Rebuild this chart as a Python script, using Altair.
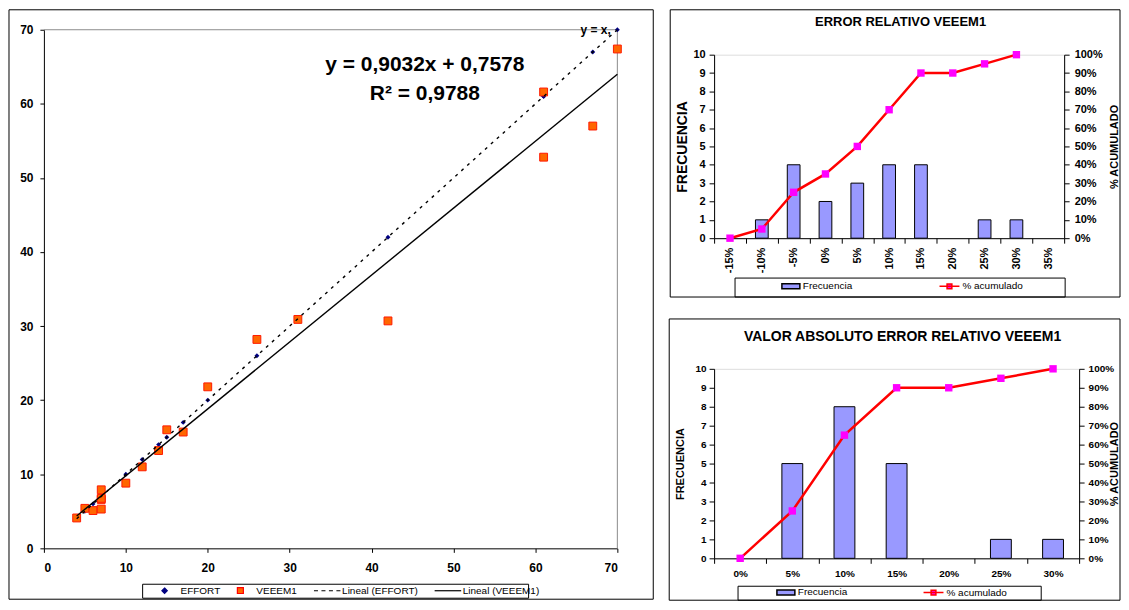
import altair as alt
import pandas as pd

FONT = "Liberation Sans"

# ---------------- scatter data (left panel) ----------------
effort = [4, 5, 6, 7, 7, 7, 7, 10, 12, 14, 15, 17, 20, 26, 31, 42, 61, 61, 67, 70]
veeem1 = [4.1, 5.4, 5.1, 7.9, 6.6, 6.75, 5.3, 8.8, 11.0, 13.2, 16.0, 15.7, 21.8,
          28.2, 30.9, 30.7, 61.6, 52.8, 57.0, 67.4]
trend_slope = 0.9032
trend_intercept = 0.7578
trend_x = [4, 70]
eq_texts = ["y = 0,9032x + 0,7578", "R² = 0,9788"]
eq_x = [46.5, 46.5]
eq_y = [65.3, 61.3]
yx_text = ["y = x,"]
yx_x = [69.2]
yx_y = [70.0]
scatter_ticks = [0, 10, 20, 30, 40, 50, 60, 70]
scatter_legend = ["EFFORT", "VEEEM1", "Lineal (EFFORT)", "Lineal (VEEEM1)"]
plot_border_x = [0, 70, 70]
plot_border_y = [70, 70, 0]

# ---------------- histogram 1 ----------------
h1_cats = ["-15%", "-10%", "-5%", "0%", "5%", "10%", "15%", "20%", "25%", "30%", "35%"]
h1_freq = [0, 1, 4, 2, 3, 4, 4, 0, 1, 1, 0]
h1_cum = [0.0, 0.05, 0.25, 0.35, 0.50, 0.70, 0.90, 0.90, 0.95, 1.00]

# ---------------- histogram 2 ----------------
h2_cats = ["0%", "5%", "10%", "15%", "20%", "25%", "30%"]
h2_freq = [0, 5, 8, 5, 0, 1, 1]
h2_cum = [0.0, 0.25, 0.65, 0.90, 0.90, 0.95, 1.00]

hist_legend = ["Frecuencia", "% acumulado"]
freq_ticks = list(range(11))
pct_ticks = [i / 10 for i in range(11)]

one = pd.DataFrame({"k": [0]})


def box(x, x2, y, y2, sw=1):
    return alt.Chart(one).mark_rect(fill="transparent", stroke="black", strokeWidth=sw,
                                    strokeJoin="round").encode(
        x=alt.value(x), x2=alt.value(x2), y=alt.value(y), y2=alt.value(y2))


# ======================= LEFT SCATTER =======================
LH = 495
sc = pd.DataFrame({"effort": effort, "veeem1": veeem1})
xsc = alt.Scale(domain=[0, 70], nice=False)
ysc = alt.Scale(domain=[0, 70], nice=False, range=[LH, -25])
ax_common = dict(title=None, labelFont=FONT, labelFontSize=12, labelFontWeight="bold",
                 tickSize=4, grid=False, domainColor="black", tickColor="black",
                 labelColor="black", values=scatter_ticks, labelOverlap=False)
xax = alt.Axis(labelPadding=10, **ax_common)
yax = alt.Axis(labelPadding=7, **ax_common)

border_df = pd.DataFrame({"x": plot_border_x, "y": plot_border_y})
border = alt.Chart(border_df).mark_line(color="#8c8c8c", strokeWidth=1).encode(
    x=alt.X("x:Q", scale=xsc, axis=xax), y=alt.Y("y:Q", scale=ysc, axis=yax))

eff_pts = alt.Chart(sc).mark_point(shape="diamond", filled=True, color="#000080",
                                   size=24, opacity=1).encode(
    x="effort:Q", y="effort:Q")
vee_pts = alt.Chart(sc).mark_square(size=62, fill="#FF6600", stroke="#FF1A00",
                                    strokeWidth=1, opacity=1).encode(
    x="effort:Q", y="veeem1:Q")

line_eff = pd.DataFrame({"x": trend_x, "y": trend_x})
line_vee = pd.DataFrame({"x": trend_x, "y": [trend_slope * v + trend_intercept for v in trend_x]})
eff_line = alt.Chart(line_eff).mark_line(color="black", strokeWidth=1.4,
                                         strokeDash=[3, 5]).encode(x="x:Q", y="y:Q")
vee_line = alt.Chart(line_vee).mark_line(color="black", strokeWidth=1.4).encode(x="x:Q", y="y:Q")

eq_df = pd.DataFrame({"x": eq_x, "y": eq_y, "t": eq_texts})
eq_text = alt.Chart(eq_df).mark_text(font=FONT, fontSize=21, fontWeight="bold", color="black",
                                     align="center", baseline="middle").encode(
    x="x:Q", y="y:Q", text="t:N")
yx_df = pd.DataFrame({"x": yx_x, "y": yx_y, "t": yx_text})
yx_lab = alt.Chart(yx_df).mark_text(font=FONT, fontSize=12, fontWeight="bold", color="black",
                                    align="right", baseline="middle").encode(
    x="x:Q", y="y:Q", text="t:N")

diamond = "M0,-0.9L0.9,0L0,0.9L-0.9,0Z"
square = "M-1,-1L1,-1L1,1L-1,1Z"
dashed = "M-4.07,0L-2.73,0M-1.57,0L-0.23,0M0.93,0L2.27,0M3.43,0L4.77,0"
solid = "M-4.07,0L4.8,0"
sleg = alt.Legend(title=None, orient="none", legendX=116, legendY=532, direction="horizontal",
                  columns=4, symbolSize=36, symbolStrokeWidth=1.2, labelOffset=11,
                  columnPadding=14, labelFont=FONT, labelFontSize=10, labelColor="black",
                  padding=0)
leg_df = pd.DataFrame({"serie": scatter_legend})
s_legend = alt.Chart(leg_df).transform_filter("false").mark_point(filled=True, opacity=1).encode(
    shape=alt.Shape("serie:N", scale=alt.Scale(domain=scatter_legend,
                                               range=[diamond, square, dashed, solid]), legend=sleg),
    fill=alt.Fill("serie:N", scale=alt.Scale(domain=scatter_legend,
                                             range=["#000080", "#FF6600", "black", "black"]), legend=sleg),
    stroke=alt.Stroke("serie:N", scale=alt.Scale(domain=scatter_legend,
                                                 range=["#000080", "#FF0000", "black", "black"]), legend=sleg),
)

left = alt.layer(
    box(-35, 611, -45, 546, 1),
    box(99, 486, 531, 545, 1),
    border, eff_pts, vee_pts, eff_line, vee_line, eq_text, yx_lab, s_legend,
).properties(width=575, height=LH, view=alt.ViewConfig(stroke="transparent"))


# ======================= HISTOGRAMS =======================
def hist(cats, freq, cum, w, h, title, title_pos, title_fs, frame, legbox, leg_pos, colpad,
         xangle, xfs, yfs, ytitle_fs, ytitle_pos, rtitle_pos, ylabpad, rlabpad, xlabpad):
    fdf = pd.DataFrame({"cat": cats, "f": freq})
    fdf = fdf[fdf["f"] > 0]
    cdf = pd.DataFrame({"cat": cats[:len(cum)], "c": cum})
    xs = alt.Scale(domain=cats, type="band", paddingInner=0, paddingOuter=0)
    xaxis = alt.Axis(title=None, tickBand="extent", labelAngle=xangle, labelFont=FONT,
                     labelFontSize=xfs, labelFontWeight="bold", labelColor="black",
                     tickSize=5, labelPadding=xlabpad, domainColor="black", tickColor="black",
                     grid=False, labelOverlap=False)
    yl = alt.Axis(orient="left", values=freq_ticks, title="FRECUENCIA", titleFont=FONT,
                  titleFontSize=ytitle_fs, titleFontWeight="bold", titleColor="black",
                  titleAngle=270, titleX=ytitle_pos[0], titleY=ytitle_pos[1],
                  titleAlign="center", titleBaseline="middle",
                  labelFont=FONT, labelFontSize=yfs, labelFontWeight="bold", labelColor="black",
                  tickSize=5, labelPadding=ylabpad, domainColor="black", tickColor="black",
                  grid=False, labelOverlap=False)
    yr = alt.Axis(orient="right", values=pct_ticks, format=".0%", title="% ACUMULADO",
                  titleFont=FONT, titleFontSize=11, titleFontWeight="bold", titleColor="black",
                  titleAngle=270, titleX=rtitle_pos[0], titleY=rtitle_pos[1],
                  titleAlign="center", titleBaseline="middle",
                  labelFont=FONT, labelFontSize=yfs, labelFontWeight="bold", labelColor="black",
                  tickSize=5, labelPadding=rlabpad, domainColor="black", tickColor="black",
                  grid=False, labelOverlap=False, labelFlush=False)
    yr_scale = alt.Scale(domain=[0, 1], nice=False)

    bars = alt.Chart(fdf).mark_bar(width={"band": 0.4}, fill="#9999FF", stroke="black",
                                   strokeWidth=1).encode(
        x=alt.X("cat:N", scale=xs, axis=xaxis),
        y=alt.Y("f:Q", scale=alt.Scale(domain=[0, 10], nice=False), axis=yl))
    line = alt.Chart(cdf).mark_line(color="#FF0000", strokeWidth=2.5).encode(
        x=alt.X("cat:N"),
        y=alt.Y("c:Q", scale=yr_scale, axis=yr))
    pts = alt.Chart(cdf).mark_square(size=55, color="#FF00FF", opacity=1).encode(
        x="cat:N", y=alt.Y("c:Q", scale=yr_scale, axis=yr))

    bar_sym = "M-4.67,-0.83L1.33,-0.83L1.33,0.83L-4.67,0.83Z"
    line_sym = "M-5.33,0L1.33,0M-2.8,-0.8L-1.2,-0.8L-1.2,0.8L-2.8,0.8Z"
    hleg = alt.Legend(title=None, orient="none", legendX=leg_pos[0], legendY=leg_pos[1],
                      direction="horizontal", columns=2, symbolSize=36, symbolStrokeWidth=1.5,
                      labelOffset=2, columnPadding=colpad, labelFont=FONT, labelFontSize=10,
                      labelColor="black", padding=0)
    ldf = pd.DataFrame({"serie": hist_legend})
    hl = alt.Chart(ldf).transform_filter("false").mark_point(filled=True, opacity=1).encode(
        shape=alt.Shape("serie:N", scale=alt.Scale(domain=hist_legend, range=[bar_sym, line_sym]),
                        legend=hleg),
        fill=alt.Fill("serie:N", scale=alt.Scale(domain=hist_legend, range=["#9999FF", "#FF00FF"]),
                      legend=hleg),
        stroke=alt.Stroke("serie:N", scale=alt.Scale(domain=hist_legend, range=["black", "#FF0000"]),
                          legend=hleg),
    )
    ttl = alt.Chart(one).mark_text(text=title, font=FONT, fontSize=title_fs, fontWeight="bold",
                                   color="black", align="center", baseline="middle").encode(
        x=alt.value(title_pos[0]), y=alt.value(title_pos[1]))

    return alt.layer(
        box(*frame, 1), box(*legbox, 1), ttl,
        bars,
        alt.layer(line, pts, hl),
    ).resolve_scale(y="independent").properties(width=w, height=h)


top = hist(h1_cats, h1_freq, h1_cum, 351, 184, "ERROR RELATIVO VEEEM1", (187, -33), 13,
           (-44, 407, -45, 243), (21, 352, 224, 243), (77, 227), 84,
           270, 11, 11, 14, (-32, 92), (50, 92), 4, 5, 4)
bottom = hist(h2_cats, h2_freq, h2_cum, 366, 190, "VALOR ABSOLUTO ERROR RELATIVO VEEEM1",
              (189, -32), 14,
              (-45, 407, -50, 232), (24, 328, 218, 232), (72, 219), 73,
              0, 10, 10, 11, (-34, 95), (35, 95), 3, 4, 5)

res = dict(fill="independent", stroke="independent", shape="independent")
right = alt.vconcat(top, bottom, spacing=20).resolve_scale(**res).resolve_legend(**res)

chart = alt.hconcat(left, right, spacing=14).resolve_scale(**res).resolve_legend(**res).properties(
    padding=0, background="white", autosize=alt.AutoSizeParams(type="pad")
).configure_view(stroke="#808080", strokeWidth=1).configure(font=FONT)

chart.save("out.html", embed_options={"renderer": "svg", "actions": False})
